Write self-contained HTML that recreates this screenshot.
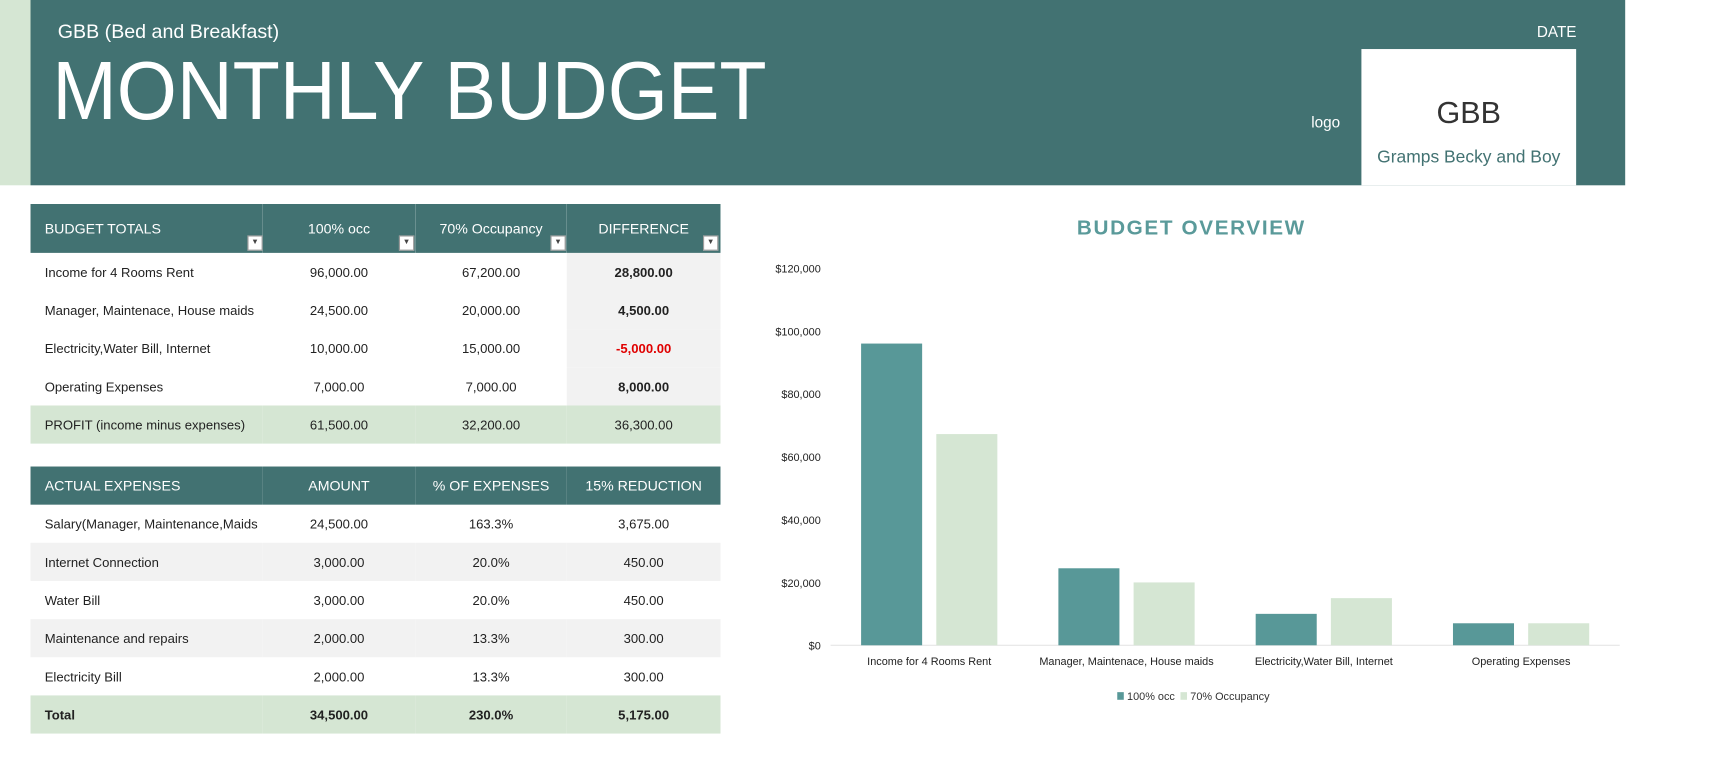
<!DOCTYPE html>
<html><head><meta charset="utf-8"><style>
body{margin:0;width:1709px;height:768px;overflow:hidden;background:#fff;font-family:"Liberation Sans",sans-serif}
#wrap{position:absolute;left:0;top:0;width:1560px;height:701px;transform:scale(1.09);transform-origin:0 0}
.a{position:absolute}
.t{position:absolute;white-space:nowrap}
table{border-collapse:collapse;border-spacing:0;position:absolute;left:28px;width:633px;table-layout:fixed;font-size:12px;color:#222}
td{height:35px;padding:0;border:0;text-align:center;white-space:nowrap;overflow:visible}
td:first-child{text-align:left;padding-left:13px}
.hd td{background:#427272;color:#fff;font-size:13px}
.g td{background:#d5e6d3}
.gr td{background:#f2f2f2}
.dd{display:inline-block;width:12px;height:12px;background:#fff;border:1px solid #999;position:absolute;font-size:7px;color:#444;line-height:12px;text-align:center}
</style></head><body>
<div id="wrap">
<div class="a" style="left:0;top:0;width:28px;height:170px;background:#d5e6d3"></div>
<div class="a" style="left:28px;top:0;width:1463px;height:170px;background:#427272"></div>
<div class="t" style="left:53px;top:19px;font-size:18px;color:#fff">GBB (Bed and Breakfast)</div>
<div class="t" style="left:48px;top:40px;font-size:76px;color:#fff;transform:scaleX(0.933);transform-origin:0 0">MONTHLY BUDGET</div>
<div class="t" style="left:1410px;top:21px;font-size:14px;color:#fff">DATE</div>
<div class="t" style="left:1203px;top:104px;font-size:14px;color:#fff">logo</div>
<div class="a" style="left:1249px;top:45px;width:197px;height:125px;background:#fff"></div>
<div class="t" style="left:1249px;width:197px;text-align:center;top:88px;font-size:28px;color:#333">GBB</div>
<div class="t" style="left:1249px;width:197px;text-align:center;top:136px;font-size:16px;color:#427272">Gramps Becky and Boy</div>

<table style="top:187px">
<colgroup><col style="width:213px"><col style="width:140px"><col style="width:139px"><col style="width:141px"></colgroup>
<tr class="hd"><td style="height:45px;position:relative">BUDGET TOTALS<span class="dd" style="left:199px;top:29px">▼</span></td><td style="position:relative">100% occ<span class="dd" style="left:125px;top:29px">▼</span></td><td style="position:relative">70% Occupancy<span class="dd" style="left:124px;top:29px">▼</span></td><td style="position:relative">DIFFERENCE<span class="dd" style="left:125px;top:29px">▼</span></td></tr>
<tr><td>Income for 4 Rooms Rent</td><td>96,000.00</td><td>67,200.00</td><td style="background:#f2f2f2;font-weight:bold">28,800.00</td></tr>
<tr><td>Manager, Maintenace, House maids</td><td>24,500.00</td><td>20,000.00</td><td style="background:#f2f2f2;font-weight:bold">4,500.00</td></tr>
<tr><td>Electricity,Water Bill, Internet</td><td>10,000.00</td><td>15,000.00</td><td style="background:#f2f2f2;font-weight:bold;color:#e00000">-5,000.00</td></tr>
<tr><td>Operating Expenses</td><td>7,000.00</td><td>7,000.00</td><td style="background:#f2f2f2;font-weight:bold">8,000.00</td></tr>
<tr class="g"><td>PROFIT (income minus expenses)</td><td>61,500.00</td><td>32,200.00</td><td>36,300.00</td></tr>
</table>

<table style="top:428px">
<colgroup><col style="width:213px"><col style="width:140px"><col style="width:139px"><col style="width:141px"></colgroup>
<tr class="hd"><td>ACTUAL EXPENSES</td><td>AMOUNT</td><td>% OF EXPENSES</td><td>15% REDUCTION</td></tr>
<tr><td>Salary(Manager, Maintenance,Maids</td><td>24,500.00</td><td>163.3%</td><td>3,675.00</td></tr>
<tr class="gr"><td>Internet Connection</td><td>3,000.00</td><td>20.0%</td><td>450.00</td></tr>
<tr><td>Water Bill</td><td>3,000.00</td><td>20.0%</td><td>450.00</td></tr>
<tr class="gr"><td>Maintenance and repairs</td><td>2,000.00</td><td>13.3%</td><td>300.00</td></tr>
<tr><td>Electricity Bill</td><td>2,000.00</td><td>13.3%</td><td>300.00</td></tr>
<tr class="g" style="font-weight:bold"><td>Total</td><td>34,500.00</td><td>230.0%</td><td>5,175.00</td></tr>
</table>

<div class="t" style="left:893px;width:400px;text-align:center;top:199px;font-size:19px;font-weight:bold;color:#5a9a9a;letter-spacing:1.5px">BUDGET  OVERVIEW</div>
<svg id="chart" class="a" style="left:0;top:0" width="1560" height="701"></svg>
</div>
<script>
const categories=["Income for 4 Rooms Rent","Manager, Maintenace, House maids","Electricity,Water Bill, Internet","Operating Expenses"];
const occ100=[96000,24500,10000,7000];
const occ70=[67200,20000,15000,7000];
const yTicks=[0,20000,40000,60000,80000,100000,120000];
const seriesNames=["100% occ","70% Occupancy"];
const colors=["#589898","#d5e6d3"];
const svg=document.getElementById('chart');const NS='http://www.w3.org/2000/svg';
const x0=762,band=181,y0=592,yTop=246,yMax=120000;
const y=v=>y0-(v/yMax)*(y0-yTop);
function mk(t,a){const e=document.createElementNS(NS,t);for(const k in a)e.setAttribute(k,a[k]);svg.appendChild(e);return e;}
yTicks.forEach(v=>{const t=mk('text',{x:753,y:y(v)+4,'text-anchor':'end','font-size':10,fill:'#222','font-family':'Liberation Sans, sans-serif'});t.textContent='$'+v.toLocaleString('en-US');

});
const base=mk('line',{x1:x0,x2:x0+band*4,y1:y0,y2:y0,stroke:'#e6e6e6'});


categories.forEach((c,i)=>{const cx=x0+band*i+band/2;
[occ100,occ70].forEach((s,j)=>{const r=mk('rect',{x:cx-62.5+j*69,y:y(s[i]),width:56,height:y0-y(s[i]),fill:colors[j]});

});
const t=mk('text',{x:cx,y:610,'text-anchor':'middle','font-size':10,fill:'#222','font-family':'Liberation Sans, sans-serif'});t.textContent=c;

});
let lx=1025;seriesNames.forEach((n,j)=>{const r=mk('rect',{x:lx,y:635,width:6,height:7,fill:colors[j]});


const t=mk('text',{x:lx+9,y:642,'font-size':10,fill:'#333','font-family':'Liberation Sans, sans-serif'});t.textContent=n;


lx+=58;});
</script>
</body></html>
